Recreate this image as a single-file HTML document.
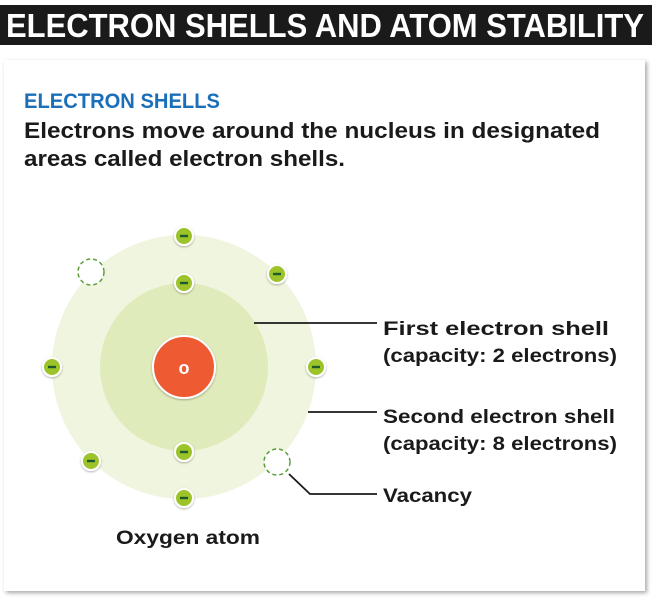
<!DOCTYPE html>
<html><head><style>body{margin:0;background:#fff;}svg{display:block}</style></head>
<body>
<svg width="652" height="600" viewBox="0 0 652 600" xmlns="http://www.w3.org/2000/svg" font-family="Liberation Sans, sans-serif" font-weight="bold">
<defs>
<filter id="sh" x="-5%" y="-5%" width="110%" height="110%"><feDropShadow dx="2" dy="2" stdDeviation="2" flood-color="#000" flood-opacity="0.35"/></filter>
<filter id="es" x="-50%" y="-50%" width="200%" height="200%"><feDropShadow dx="0" dy="1" stdDeviation="1" flood-color="#000" flood-opacity="0.3"/></filter>
</defs>
<rect x="0" y="0" width="652" height="600" fill="#fff"/>
<rect x="0" y="5" width="652" height="40" fill="#1a1a1a"/>
<text x="6" y="37" fill="#fff" font-size="33" textLength="638" lengthAdjust="spacingAndGlyphs">ELECTRON SHELLS AND ATOM STABILITY</text>
<rect x="4" y="60" width="641" height="531" fill="#fff" filter="url(#sh)"/>
<text x="24" y="108" fill="#1a6fb8" font-size="21" textLength="196" lengthAdjust="spacingAndGlyphs">ELECTRON SHELLS</text>
<text x="24" y="138" fill="#1a1a1a" font-size="22" textLength="576" lengthAdjust="spacingAndGlyphs">Electrons move around the nucleus in designated</text>
<text x="24" y="166" fill="#1a1a1a" font-size="22" textLength="321" lengthAdjust="spacingAndGlyphs">areas called electron shells.</text>

<circle cx="184" cy="367" r="132" fill="#eff5de"/>
<circle cx="184" cy="367" r="84" fill="#e0ebbb"/>
<circle cx="184" cy="367" r="31" fill="#ee5a32" stroke="#fff" stroke-width="2" filter="url(#es)"/>
<text x="184" y="374" fill="#fff" font-size="18" text-anchor="middle">o</text>

<g stroke="#5aa03a" stroke-width="1.5" stroke-dasharray="4 3" fill="#fff">
<circle cx="91" cy="272" r="13"/>
<circle cx="277" cy="462" r="13"/>
</g>

<g filter="url(#es)">
<g fill="#9cc42a" stroke="#fff" stroke-width="2">
<circle cx="184" cy="236" r="9"/><circle cx="184" cy="283" r="9"/>
<circle cx="184" cy="452" r="9"/><circle cx="184" cy="498" r="9"/>
<circle cx="52" cy="367" r="9"/><circle cx="316" cy="367" r="9"/>
<circle cx="277" cy="274" r="9"/><circle cx="91" cy="461" r="9"/>
</g></g>
<g stroke="#1f5a2c" stroke-width="2.4">
<line x1="180" y1="236" x2="188" y2="236"/><line x1="180" y1="283" x2="188" y2="283"/>
<line x1="180" y1="452" x2="188" y2="452"/><line x1="180" y1="498" x2="188" y2="498"/>
<line x1="48" y1="367" x2="56" y2="367"/><line x1="312" y1="367" x2="320" y2="367"/>
<line x1="273" y1="274" x2="281" y2="274"/><line x1="87" y1="461" x2="95" y2="461"/>
</g>

<g stroke="#1a1a1a" stroke-width="1.8" fill="none">
<polyline points="254,323 377,323"/>
<polyline points="308,412 377,412"/>
<polyline points="289,474 310,494 377,494"/>
</g>
<g fill="#1a1a1a" font-size="19">
<text x="383" y="335" textLength="226" lengthAdjust="spacingAndGlyphs">First electron shell</text>
<text x="383" y="362" textLength="234" lengthAdjust="spacingAndGlyphs">(capacity: 2 electrons)</text>
<text x="383" y="423" textLength="232" lengthAdjust="spacingAndGlyphs">Second electron shell</text>
<text x="383" y="450" textLength="234" lengthAdjust="spacingAndGlyphs">(capacity: 8 electrons)</text>
<text x="383" y="502" textLength="89" lengthAdjust="spacingAndGlyphs">Vacancy</text>
<text x="116" y="544" textLength="144" lengthAdjust="spacingAndGlyphs">Oxygen atom</text>
</g>
</svg>
</body></html>
